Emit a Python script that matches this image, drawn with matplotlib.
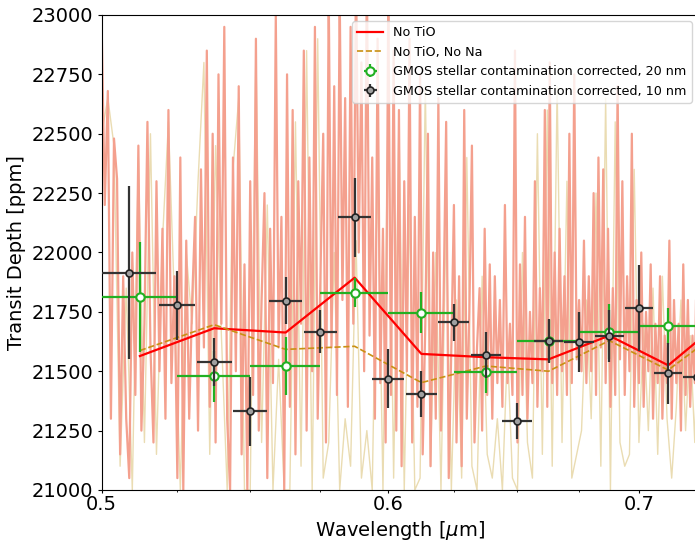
import numpy as np
import matplotlib
matplotlib.use("Agg")
import matplotlib.pyplot as plt
from matplotlib.ticker import FixedLocator, MultipleLocator, FormatStrFormatter

# ---------------- data ----------------
# high-resolution model spectra (ppm), regular wavelength grids starting at 0.500 um
hr_start = 0.500
hr_step_notio = 0.001
no_tio_hr = [
    22950, 22200, 22680, 21300, 22480, 22310, 21150, 21900, 21300, 21050,
    22000, 21400, 22450, 21250, 21700, 22550, 21600, 21200, 22300, 21500,
    22100, 21300, 22600, 21450, 21900, 21050, 22400, 21000, 22050, 21300,
    21800, 22150, 21250, 22350, 21600, 22850, 21350, 22500, 21200, 22750,
    21700, 22950, 21300, 21000, 22400, 21500, 22700, 21150, 21950, 21000,
    22300, 21400, 22900, 21250, 21800, 22250, 21050, 22100, 21450, 23000,
    21600, 22150, 21000, 22750, 21350, 22600, 21150, 22300, 21700, 22850,
    21250, 22400, 21500, 22950, 21300, 21900, 22500, 21200, 23100, 21600,
    22700, 21400, 23100, 21800, 22650, 21350, 22950, 21700, 23200, 22000,
    22800, 21500, 23200, 21650, 22400, 21300, 22900, 21450, 22100, 21200,
    23100, 21400, 22850, 21250, 22600, 21100, 22300, 21500, 22900, 21200,
    22150, 21350, 22750, 21150, 21700, 22500, 21100, 22000, 21300, 22650,
    21250, 21800, 22550, 21050, 21600, 22200, 21200, 21900, 21100, 22600,
    21300, 21750, 22450, 21200, 21600, 21850, 21250, 22100, 21400, 21950,
    21300, 21900, 21450, 21800, 21350, 22200, 21450, 21700, 21400, 22850,
    21200, 21950, 21400, 22150, 21300, 21750, 21450, 22300, 21350, 21850,
    21500, 22600, 21350, 22800, 21450, 22000, 21400, 22100, 21500, 21900,
    21400, 22500, 21450, 22750, 21550, 21800, 21500, 22050, 21450, 21900,
    21500, 22250, 21400, 22400, 21600, 22350, 21450, 22100, 21350, 21850,
    21400, 22700, 21550, 22300, 21400, 21900, 21500, 22500, 21350, 21800,
    21450, 22000, 21350, 21750, 21500, 21950, 21300, 21700, 21450, 21900,
    21300, 21650, 21450, 22050, 21300, 21800, 21450, 21700, 21250, 21950,
    21400, 21800, 21350, 21650, 21450, 22100, 21400, 21700, 21450, 21600, 21500,
]
hr_step_nona = 0.002
no_tio_no_na_hr = [
    22500, 22650, 22450, 21100, 21850, 21000, 22400, 21200, 22500, 21150,
    22050, 22550, 21800, 21000, 22000, 21700, 22300, 22800, 21150, 22450,
    21650, 21000, 22350, 22650, 21000, 21000, 22850, 21200, 22200, 21000,
    21550, 21000, 21000, 22550, 21100, 22850, 21000, 22900, 21050, 21200,
    22000, 21000, 21300, 21100, 22050, 21050, 21250, 21000, 22350, 21000,
    22700, 21050, 22550, 21000, 22200, 21000, 21050, 22700, 21100, 22000,
    21000, 22150, 21000, 21800, 21050, 22400, 21100, 21000, 21900, 21150,
    21050, 21300, 21000, 21600, 21050, 21000, 22000, 21200, 21050, 22500,
    21150, 22600, 21100, 22700, 21200, 22300, 21050, 21150, 21250, 21800,
    21300, 22250, 21100, 22650, 21000, 22550, 21200, 21100, 21150, 22350,
    21200, 21700, 21250, 21850, 21150, 21900, 21300, 21050, 21350, 21800,
    21250, 21650, 21200, 21950, 21300, 21450,
]

# binned models (at 20 nm bin centres)
model_wl = [0.5125, 0.5375, 0.5625, 0.5875, 0.6125, 0.6375, 0.6625, 0.6875, 0.7125, 0.7375]
no_tio_binned = [21564, 21681, 21663, 21894, 21573, 21559, 21550, 21650, 21525, 21725]
no_tio_no_na_binned = [21587, 21696, 21592, 21605, 21452, 21522, 21500, 21629, 21505, 21686]

# GMOS 20 nm
green_wl = [0.5125, 0.5375, 0.5625, 0.5875, 0.6125, 0.6375, 0.6625, 0.6875, 0.7125]
green_xerr = [0.0125, 0.0125, 0.0125, 0.0125, 0.0125, 0.0125, 0.0125, 0.0125, 0.0125]
green_depth = [21814, 21479, 21523, 21831, 21747, 21498, 21627, 21667, 21691]
green_err = [231, 107, 122, 62, 88, 88, 90, 115, 75]

# GMOS 10 nm
black_wl = [0.509, 0.525, 0.5375, 0.55, 0.5625, 0.575, 0.5875, 0.6, 0.6125,
            0.625, 0.6375, 0.65, 0.6625, 0.675, 0.6875, 0.7, 0.7125, 0.725]
black_xerr = [0.009, 0.006, 0.006, 0.006, 0.006, 0.006, 0.006, 0.006, 0.006,
              0.006, 0.006, 0.006, 0.006, 0.006, 0.006, 0.006, 0.006, 0.006]
black_depth = [21915, 21778, 21539, 21331, 21797, 21667, 22148, 21468, 21405,
               21706, 21568, 21289, 21627, 21623, 21648, 21768, 21491, 21477]
black_err = [365, 145, 100, 146, 98, 91, 165, 124, 97,
             77, 96, 76, 91, 127, 109, 181, 128, 128]

x_ticks = [0.5, 0.6, 0.7]
y_ticks = [21000, 21250, 21500, 21750, 22000, 22250, 22500, 22750, 23000]

# ---------------- plot ----------------
wl_notio = np.round(hr_start + hr_step_notio * np.arange(len(no_tio_hr)), 4)
wl_nona = np.round(hr_start + hr_step_nona * np.arange(len(no_tio_no_na_hr)), 4)

fig = plt.figure(figsize=(6.95, 5.41), dpi=100)
ax = fig.add_axes([0.1463, 0.0943, 0.858, 0.878])

fwd = lambda x: np.power(np.clip(x, 1e-6, None), 0.2)
inv = lambda y: np.power(np.clip(y, 1e-6, None), 5.0)
ax.set_xscale('function', functions=(fwd, inv))

ax.plot(wl_nona, no_tio_no_na_hr, color='#eadcb2', lw=1.0, zorder=1)
ax.plot(wl_notio, no_tio_hr, color='#f4a08e', lw=1.6, zorder=2)

ax.plot(model_wl, no_tio_binned, color='red', lw=1.6, zorder=3, label='No TiO')
ax.plot(model_wl, no_tio_no_na_binned, color='#c99012', lw=1.2, ls='--', zorder=3,
        label='No TiO, No Na')

ax.errorbar(green_wl, green_depth, yerr=green_err, xerr=green_xerr, fmt='o',
            color='#22b022', ecolor='#22b022', elinewidth=1.6, mfc='white',
            mec='#22b022', mew=1.5, ms=6, zorder=4,
            label='GMOS stellar contamination corrected, 20 nm')
ax.errorbar(black_wl, black_depth, yerr=black_err, xerr=black_xerr, fmt='o',
            color='#333333', ecolor='#333333', elinewidth=1.6, mfc='#a0a0a0',
            mec='#222222', mew=1.2, ms=5, zorder=5,
            label='GMOS stellar contamination corrected, 10 nm')

ax.set_xlim(0.5, 0.7254)
ax.set_ylim(21000, 23000)
ax.xaxis.set_major_locator(FixedLocator(x_ticks))
ax.xaxis.set_major_formatter(FormatStrFormatter('%.1f'))
ax.xaxis.set_minor_locator(MultipleLocator(0.025))
ax.xaxis.set_minor_formatter(plt.NullFormatter())
ax.set_yticks(y_ticks)
ax.tick_params(axis='both', which='major', labelsize=14)
ax.tick_params(axis='x', which='major', length=2.2, pad=1.2)
ax.tick_params(axis='x', which='minor', length=1.6)
ax.tick_params(axis='y', which='major', length=3.0, pad=3.0)

ax.set_xlabel(r'Wavelength [$\mu$m]', fontsize=14, labelpad=4)
ax.set_ylabel('Transit Depth [ppm]', fontsize=14)

ax.legend(loc='upper right', fontsize=9.2)

fig.savefig('out.png', dpi=100)
